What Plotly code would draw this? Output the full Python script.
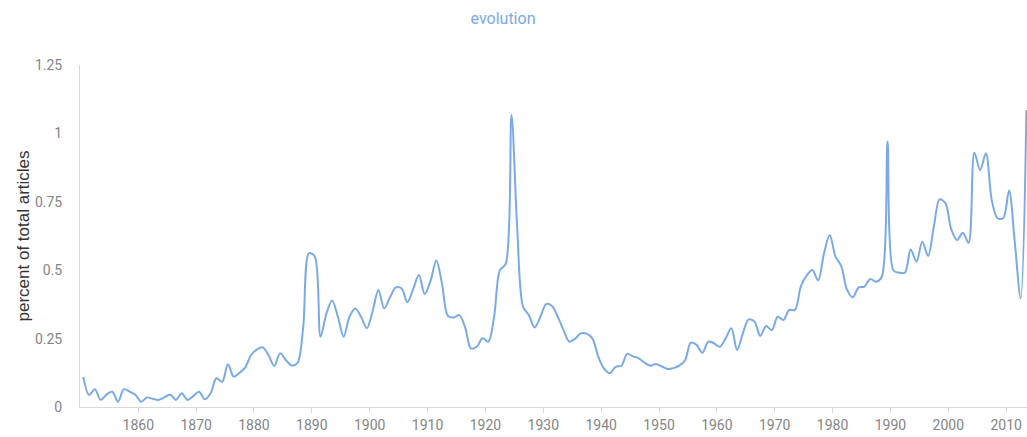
import plotly.graph_objects as go

# annual share of articles mentioning "evolution" (percent of total articles)
years = list(range(1850, 2014))
values = [
    0.11, 0.044, 0.065, 0.026, 0.045, 0.056, 0.019, 0.065, 0.056, 0.045,  # 1850s
    0.019, 0.035, 0.03, 0.026, 0.035, 0.046, 0.026, 0.05, 0.026, 0.04,     # 1860s
    0.056, 0.028, 0.05, 0.105, 0.092, 0.156, 0.111, 0.125, 0.145, 0.19,    # 1870s
    0.21, 0.218, 0.19, 0.15, 0.196, 0.172, 0.152, 0.16, 0.29, 0.562,       # 1880s
    0.55, 0.257, 0.34, 0.389, 0.33, 0.257, 0.33, 0.36, 0.33, 0.288,        # 1890s
    0.35, 0.428, 0.36, 0.4, 0.437, 0.434, 0.383, 0.43, 0.482, 0.413,       # 1900s
    0.46, 0.535, 0.45, 0.333, 0.327, 0.336, 0.29, 0.214, 0.22, 0.251,      # 1910s
    0.239, 0.33, 0.5, 0.523, 1.067, 0.65, 0.367, 0.336, 0.291, 0.33,       # 1920s
    0.376, 0.369, 0.33, 0.281, 0.239, 0.25, 0.269, 0.268, 0.25, 0.184,     # 1930s
    0.14, 0.123, 0.147, 0.151, 0.194, 0.185, 0.178, 0.162, 0.151, 0.157,   # 1940s
    0.148, 0.139, 0.142, 0.151, 0.17, 0.235, 0.227, 0.198, 0.239, 0.233,   # 1950s
    0.22, 0.25, 0.288, 0.208, 0.27, 0.32, 0.312, 0.26, 0.296, 0.281,       # 1960s
    0.33, 0.318, 0.355, 0.355, 0.44, 0.48, 0.501, 0.462, 0.56, 0.629,      # 1970s
    0.55, 0.515, 0.428, 0.401, 0.437, 0.44, 0.468, 0.458, 0.476, 0.97,     # 1980s
    0.5, 0.491, 0.491, 0.576, 0.531, 0.604, 0.552, 0.66, 0.759, 0.745,     # 1990s
    0.65, 0.61, 0.637, 0.6, 0.929, 0.866, 0.927, 0.757, 0.69, 0.69,        # 2000s
    0.791, 0.6, 0.397, 1.085,                                              # 2010s
]

# yearly values sit at mid-year
x_mid = [y + 0.5 for y in years]

LINE_BLUE = "#7aaae6"
AXIS_GREY = "#d9d9d9"
TICK_GREY = "#858585"

W, H = 1027, 437

fig = go.Figure(go.Scatter(
    x=x_mid, y=values,
    mode="lines",
    line=dict(color=LINE_BLUE, width=2, shape="spline", smoothing=0.9),
    hoverinfo="skip",
    showlegend=False,
))

fig.update_layout(
    width=W, height=H,
    paper_bgcolor="white", plot_bgcolor="white",
    margin=dict(l=80, r=0, t=65, b=30),
    font=dict(family="Roboto, Liberation Sans, sans-serif", size=14, color=TICK_GREY),
    title=dict(
        text="evolution",
        font=dict(family="Roboto, Liberation Sans, sans-serif", size=16, color=LINE_BLUE),
        x=503 / W, xref="container", xanchor="center",
        y=1 - 18 / H, yref="container", yanchor="middle",
    ),
)

fig.update_xaxes(
    range=[1849.93, 2013.6],
    tickvals=list(range(1860, 2020, 10)),
    showgrid=False, zeroline=False,
    showline=True, linecolor=AXIS_GREY, linewidth=1,
    ticks="outside", ticklen=5, tickcolor=AXIS_GREY,
    tickfont=dict(size=14, color=TICK_GREY),
)
fig.update_yaxes(
    range=[0, 1.25],
    tickvals=[0, 0.25, 0.5, 0.75, 1, 1.25],
    ticktext=["0", "0.25", "0.5", "0.75", "1", "1.25"],
    showgrid=False, zeroline=False,
    showline=True, linecolor=AXIS_GREY, linewidth=1,
    ticks="", ticklabelstandoff=14,
    tickfont=dict(size=14, color=TICK_GREY),
    title=dict(
        text="percent of total articles",
        font=dict(family="Liberation Sans, Arial, sans-serif", size=17, color="#333333"),
        standoff=0,
    ),
)

# drop the default body margin so the figure fills the window exactly
fig.write_html(
    "out.html",
    config={"displayModeBar": False},
    post_script=(
        "document.body.style.margin='0';"
        "document.body.style.overflow='hidden';"
        "document.documentElement.style.overflow='hidden';"
    ),
)
